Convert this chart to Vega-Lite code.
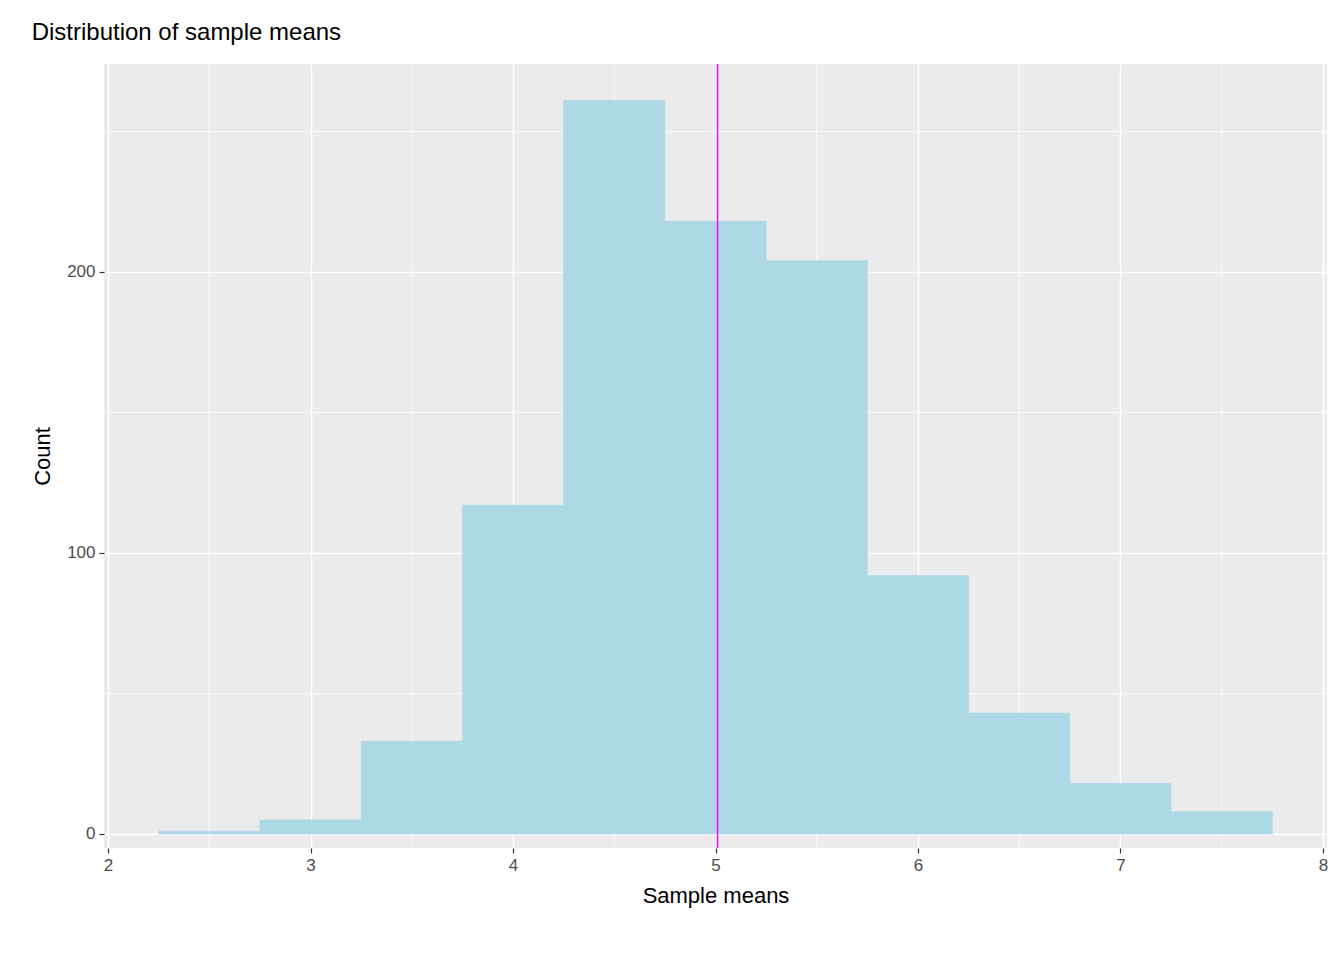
{
  "$schema": "https://vega.github.io/schema/vega-lite/v6.json",
  "autosize": {"type": "none"},
  "padding": {"left": 104, "top": 64, "right": 17, "bottom": 112},
  "width": 1223,
  "height": 784,
  "background": "white",
  "title": {
    "text": "Distribution of sample means",
    "anchor": "start",
    "frame": "bounds",
    "font": "Liberation Sans",
    "fontSize": 24,
    "fontWeight": "normal",
    "color": "black",
    "offset": 18
  },
  "config": {
    "view": {"fill": "#EBEBEB", "stroke": null}
  },
  "datasets": {
    "bins": [
      {"start": 2.25, "end": 2.75, "count": 1},
      {"start": 2.75, "end": 3.25, "count": 5},
      {"start": 3.25, "end": 3.75, "count": 33},
      {"start": 3.75, "end": 4.25, "count": 117},
      {"start": 4.25, "end": 4.75, "count": 261},
      {"start": 4.75, "end": 5.25, "count": 218},
      {"start": 5.25, "end": 5.75, "count": 204},
      {"start": 5.75, "end": 6.25, "count": 92},
      {"start": 6.25, "end": 6.75, "count": 43},
      {"start": 6.75, "end": 7.25, "count": 18},
      {"start": 7.25, "end": 7.75, "count": 8}
    ],
    "minorx": [{"v": 2.5}, {"v": 3.5}, {"v": 4.5}, {"v": 5.5}, {"v": 6.5}, {"v": 7.5}],
    "minory": [{"v": 50}, {"v": 150}, {"v": 250}]
  },
  "layer": [
    {
      "data": {"name": "minorx"},
      "mark": {"type": "rule", "color": "white", "strokeWidth": 0.7},
      "encoding": {
        "x": {"field": "v", "type": "quantitative", "scale": {"domain": [1.98, 8.02], "nice": false, "zero": false},
          "axis": {"values": [2, 3, 4, 5, 6, 7, 8], "format": "d", "title": "Sample means",
            "grid": true, "gridColor": "white", "gridWidth": 1.5, "domain": false,
            "tickColor": "#333333", "tickSize": 5, "tickWidth": 1.2,
            "labelFont": "Liberation Sans", "labelFontSize": 17, "labelColor": "#4D4D4D", "labelPadding": 4,
            "titleFont": "Liberation Sans", "titleFontSize": 22, "titleFontWeight": "normal", "titleColor": "black", "titlePadding": 12}}
      }
    },
    {
      "data": {"name": "minory"},
      "mark": {"type": "rule", "color": "white", "strokeWidth": 0.7},
      "encoding": {
        "y": {"field": "v", "type": "quantitative", "scale": {"domain": [-5, 274], "nice": false, "zero": false},
          "axis": {"values": [0, 100, 200], "format": "d", "title": "Count",
            "grid": true, "gridColor": "white", "gridWidth": 1.5, "domain": false,
            "tickColor": "#333333", "tickSize": 5, "tickWidth": 1.2,
            "labelFont": "Liberation Sans", "labelFontSize": 17, "labelColor": "#4D4D4D", "labelPadding": 4,
            "titleFont": "Liberation Sans", "titleFontSize": 22, "titleFontWeight": "normal", "titleColor": "black", "titlePadding": 12}}
      }
    },
    {
      "data": {"name": "bins"},
      "mark": {"type": "rect", "color": "#ADD8E6", "stroke": "#ADD8E6", "strokeWidth": 0.6},
      "encoding": {
        "x": {"field": "start", "type": "quantitative"},
        "x2": {"field": "end"},
        "y": {"field": "count", "type": "quantitative"},
        "y2": {"datum": 0}
      }
    },
    {
      "data": {"values": [{"mean": 5.01}]},
      "mark": {"type": "rule", "color": "#FF00FF", "strokeWidth": 1.5},
      "encoding": {
        "x": {"field": "mean", "type": "quantitative"}
      }
    }
  ]
}
